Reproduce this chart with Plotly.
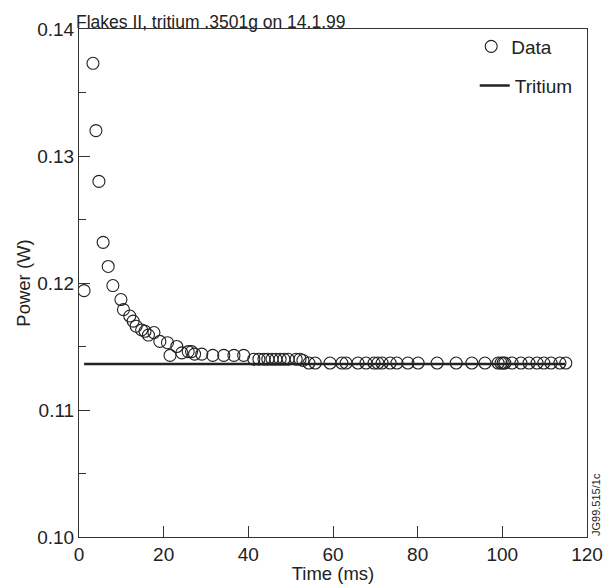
import plotly.graph_objects as go

# ---- data ----
time_ms = [1.2, 3.3, 4.0, 4.7, 5.7, 6.9, 8.0, 9.9, 10.5, 12.0, 12.8, 13.5, 14.8,
           15.6, 16.4, 17.7, 19.1, 20.9, 21.5, 23.1, 24.3, 25.8, 26.6, 27.3, 29.0,
           31.6, 34.2, 36.6, 38.9,
           41.3, 42.5, 43.7, 44.6, 45.6, 46.5, 47.5, 48.4, 49.4, 51.3, 52.2, 52.9,
           54.3, 55.8, 59.3, 62.1, 63.1, 65.9, 67.8, 69.7, 70.6, 71.6, 73.5, 75.1,
           77.7, 80.1, 84.6, 89.1, 92.8, 95.9, 99.0, 99.7, 100.2, 100.6, 102.3,
           104.4, 106.3, 108.2, 109.8, 111.5, 113.6, 115.0]
power_w = [0.1194, 0.1373, 0.1320, 0.1280, 0.1232, 0.1213, 0.1198, 0.1187, 0.1179,
           0.1174, 0.1170, 0.1166, 0.1163, 0.1162, 0.1159, 0.1161, 0.1154, 0.1153,
           0.1143, 0.1150, 0.1145, 0.1146, 0.1146, 0.1144, 0.1144, 0.1143, 0.1143,
           0.1143, 0.1143,
           0.1140, 0.1140, 0.1140, 0.1140, 0.1140, 0.1140, 0.1140, 0.1140, 0.1140,
           0.1140, 0.1140, 0.1139,
           0.1137, 0.1137, 0.1137, 0.1137, 0.1137, 0.1137, 0.1137, 0.1137, 0.1137,
           0.1137, 0.1137, 0.1137, 0.1137, 0.1137, 0.1137, 0.1137, 0.1137, 0.1137,
           0.1137, 0.1137, 0.1137, 0.1137, 0.1137, 0.1137, 0.1137, 0.1137, 0.1137,
           0.1137, 0.1137, 0.1137]

tritium_t = [1.2, 114.8]
tritium_p = [0.11362, 0.11362]

x_ticks = [0, 20, 40, 60, 80, 100, 120]
y_ticks = [0.10, 0.11, 0.12, 0.13, 0.14]
y_tick_labels = ["0.10", "0.11", "0.12", "0.13", "0.14"]

FONT = "Liberation Sans, Arial, sans-serif"
INK = "#222222"

fig = go.Figure()
fig.add_trace(go.Scatter(
    x=time_ms, y=power_w, mode="markers", name="Data", showlegend=True,
    marker=dict(symbol="circle-open", size=12, color=INK, line=dict(width=1.1, color=INK)),
    legend="legend",
))
fig.add_trace(go.Scatter(
    x=tritium_t, y=tritium_p, mode="lines", name="Tritium", showlegend=True,
    line=dict(color=INK, width=2.5),
    legend="legend2",
))

axis_common = dict(
    showline=True, linecolor="#333333", linewidth=1, mirror=True, automargin=False,
    showgrid=False, zeroline=False, ticks="inside", tickcolor="#333333",
    tickfont=dict(family=FONT, size=19, color=INK),
)

fig.update_xaxes(
    range=[0, 120], tickvals=x_ticks, ticklen=11,
    title=dict(text="Time (ms)", font=dict(family=FONT, size=18.5, color=INK), standoff=4),
    **axis_common,
)
fig.update_yaxes(
    range=[0.10, 0.14], tickvals=y_ticks, ticktext=y_tick_labels, ticklen=11,
    minor=dict(dtick=0.005, ticks="inside", ticklen=7, tickcolor="#333333"),
    title=dict(text="Power (W)", font=dict(family=FONT, size=18.5, color=INK), standoff=1),
    **axis_common,
)

fig.update_layout(
    template="none",
    width=613, height=584,
    margin=dict(l=79, r=26, t=29, b=47, autoexpand=False),
    paper_bgcolor="white", plot_bgcolor="white",
    font=dict(family=FONT, color=INK),
    legend=dict(x=0.772, y=1.003, xanchor="left", yanchor="top",
                bgcolor="rgba(0,0,0,0)", font=dict(family=FONT, size=19, color=INK)),
    legend2=dict(x=0.779, y=0.926, xanchor="left", yanchor="top",
                 bgcolor="rgba(0,0,0,0)", font=dict(family=FONT, size=19, color=INK)),
    annotations=[
        dict(text="Flakes II, tritium .3501g on 14.1.99", xref="paper", yref="paper",
             x=0, y=1, xanchor="left", yanchor="bottom", xshift=-5, yshift=-5,
             showarrow=False, font=dict(family=FONT, size=17.5, color=INK)),
        dict(text="JG99.515/1c", xref="paper", yref="paper", x=1, y=0.063,
             xanchor="left", yanchor="middle", xshift=1, textangle=-90,
             showarrow=False, font=dict(family=FONT, size=11, color=INK)),
    ],
)

fig.write_html("out.html", config={"displayModeBar": False},
               post_script="document.body.style.margin='0';")
